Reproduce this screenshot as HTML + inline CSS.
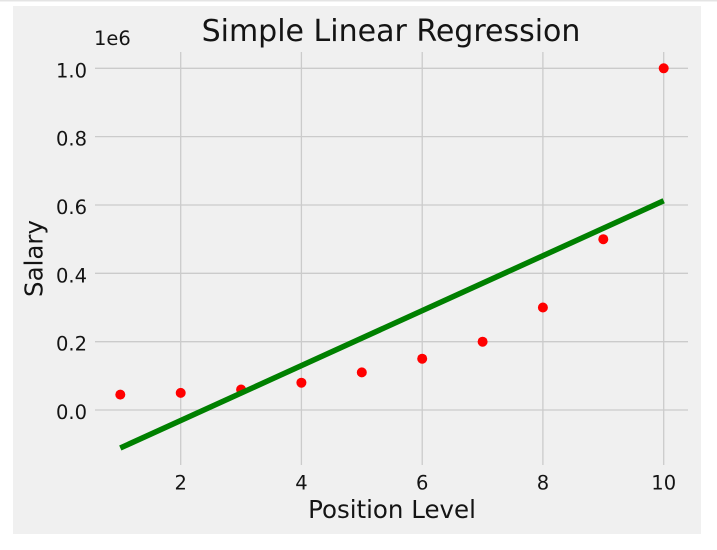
<!DOCTYPE html>
<html><head><meta charset="utf-8"><style>
html,body{margin:0;padding:0;background:#fff;}
svg{display:block;}
text{font-family:"DejaVu Sans","Liberation Sans",sans-serif;fill:#141414;}
</style></head><body>
<svg width="717" height="550" viewBox="0 0 717 550" xmlns="http://www.w3.org/2000/svg">
<rect x="0" y="0" width="717" height="550" fill="#ffffff"/>
<rect x="0" y="0" width="717" height="1.5" fill="#e4e4e4"/>
<rect x="13" y="6" width="688" height="528" fill="#f0f0f0"/>
<g stroke="#cbcbcb" stroke-width="1.3">
<line x1="95" y1="410" x2="688" y2="410"/>
<line x1="95" y1="341.7" x2="688" y2="341.7"/>
<line x1="95" y1="273.3" x2="688" y2="273.3"/>
<line x1="95" y1="205" x2="688" y2="205"/>
<line x1="95" y1="136.6" x2="688" y2="136.6"/>
<line x1="95" y1="68.3" x2="688" y2="68.3"/>
<line x1="180.7" y1="52" x2="180.7" y2="465"/>
<line x1="301.4" y1="52" x2="301.4" y2="465"/>
<line x1="422.2" y1="52" x2="422.2" y2="465"/>
<line x1="542.9" y1="52" x2="542.9" y2="465"/>
<line x1="663.7" y1="52" x2="663.7" y2="465"/>
</g>
<g fill="#ff0000">
<circle cx="120.3" cy="394.6" r="5"/>
<circle cx="180.7" cy="392.9" r="5"/>
<circle cx="241.1" cy="389.5" r="5"/>
<circle cx="301.4" cy="382.7" r="5"/>
<circle cx="361.8" cy="372.4" r="5"/>
<circle cx="422.2" cy="358.7" r="5"/>
<circle cx="482.6" cy="341.7" r="5"/>
<circle cx="542.9" cy="307.5" r="5"/>
<circle cx="603.3" cy="239.2" r="5"/>
<circle cx="663.7" cy="68.3" r="5"/>
</g>
<line x1="120.3" y1="448" x2="663.7" y2="200.8" stroke="#008000" stroke-width="5.5" stroke-linecap="butt"/>
<g font-size="19.5" text-anchor="end">
<text x="87" y="419">0.0</text>
<text x="87" y="350.7">0.2</text>
<text x="87" y="282.3">0.4</text>
<text x="87" y="214">0.6</text>
<text x="87" y="145.6">0.8</text>
<text x="87" y="77.5">1.0</text>
</g>
<g font-size="19.5" text-anchor="middle">
<text x="180.7" y="489.5">2</text>
<text x="301.4" y="489.5">4</text>
<text x="422.2" y="489.5">6</text>
<text x="542.9" y="489.5">8</text>
<text x="663.7" y="489.5">10</text>
</g>
<text x="94" y="45" font-size="19.5">1e6</text>
<text x="391" y="41" font-size="30" text-anchor="middle">Simple Linear Regression</text>
<text x="392" y="518" font-size="24.5" text-anchor="middle">Position Level</text>
<text transform="translate(42.5,258.5) rotate(-90)" font-size="24.5" text-anchor="middle">Salary</text>
</svg>
</body></html>
